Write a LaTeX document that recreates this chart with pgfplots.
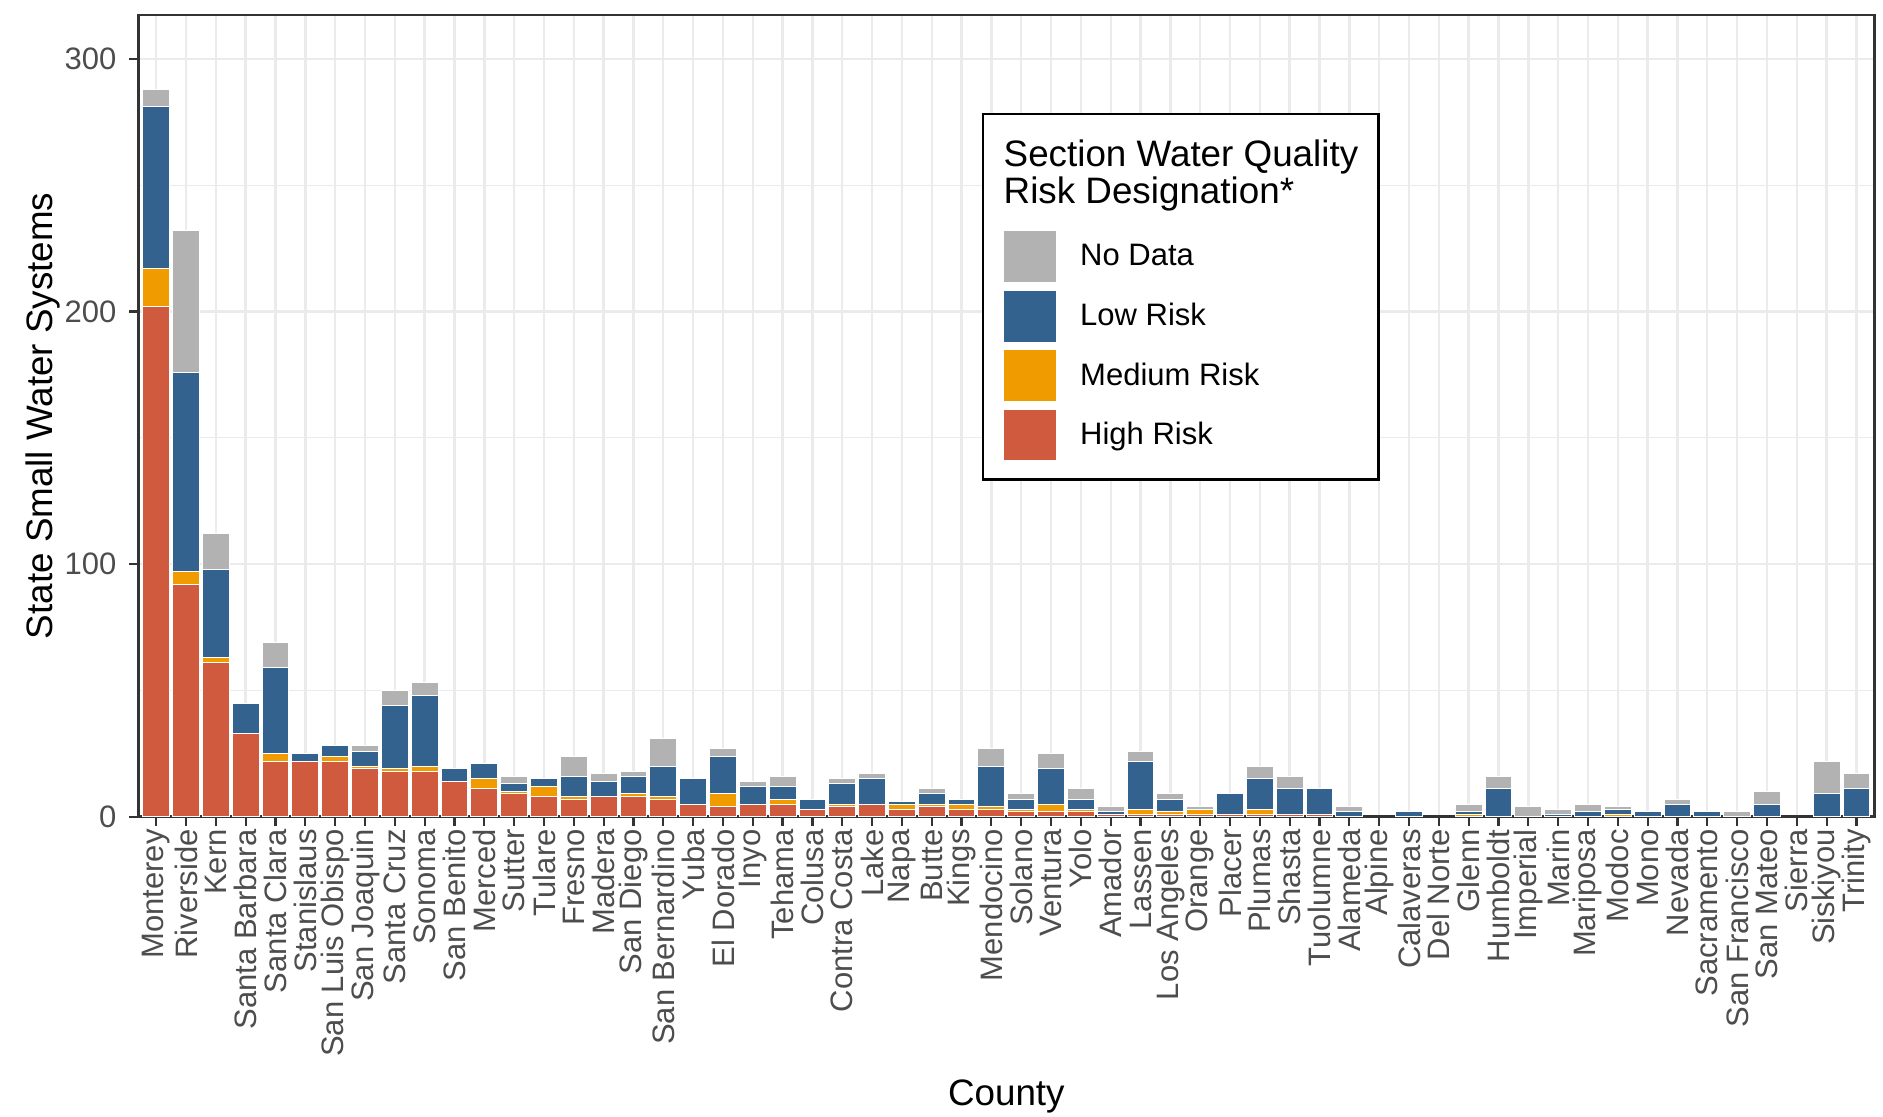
\documentclass[border=0pt]{standalone}
\usepackage{pgfplots}
\pgfplotsset{compat=1.18}
\usepackage{pgfplotstable}
\usepackage{fontspec}
\setmainfont{Liberation Sans}
\definecolor{cND}{HTML}{B2B2B2}
\definecolor{cLow}{HTML}{33628E}
\definecolor{cMed}{HTML}{F09B00}
\definecolor{cHigh}{HTML}{D05A3E}
\definecolor{gridc}{HTML}{EBEBEB}
\definecolor{g20}{HTML}{333333}
\definecolor{g30}{HTML}{4D4D4D}

\pgfplotstableread{
x high med low nodata
0 202 15 64 7
1 92 5 79 56
2 61 2 35 14
3 33 0 12 0
4 22 3 34 10
5 22 0 3 0
6 22 2 4 0
7 19 1 6 2
8 18 1 25 6
9 18 2 28 5
10 14 0 5 0
11 11 4 6 0
12 9 1 3 3
13 8 4 3 0
14 7 1 8 8
15 8 0 6 3
16 8 1 7 2
17 7 1 12 11
18 5 0 10 0
19 4 5 15 3
20 5 0 7 2
21 5 2 5 4
22 3 0 4 0
23 4 1 8 2
24 5 0 10 2
25 3 2 1 0
26 4 1 4 2
27 3 2 2 0
28 3 1 16 7
29 2 1 4 2
30 2 3 14 6
31 2 1 4 4
32 1 0 1 2
33 1 2 19 4
34 1 1 5 2
35 1 2 0 1
36 1 0 8 0
37 1 2 12 5
38 1 0 10 5
39 1 0 10 0
40 0 0 2 2
41 0 0 0 0
42 0 0 2 0
43 0 0 0 0
44 0 1 1 3
45 0 0 11 5
46 0 0 0 4
47 0 0 1 2
48 0 0 2 3
49 0 1 2 1
50 0 0 2 0
51 0 0 5 2
52 0 0 2 0
53 0 0 0 2
54 0 0 5 5
55 0 0 0 0
56 0 0 9 13
57 0 0 11 6
}\data

\pgfplotsset{
  keyimg/.style={legend image code/.code={\draw[##1, line width=0.8pt] (0pt,-13.1pt) rectangle (27.2pt,13.1pt);}},
}

\begin{document}
\begin{tikzpicture}
\begin{axis}[
  name=ax,
  scale only axis, width=868pt, height=400.85pt,
  ybar stacked, bar width=0.9,
  clip=false,
  xmin=-0.6, xmax=57.6, ymin=0, ymax=317.4,
  enlargelimits=false,
  xtick={0,...,57},
  xticklabels={Monterey,Riverside,Kern,Santa Barbara,Santa Clara,Stanislaus,San Luis Obispo,San Joaquin,Santa Cruz,Sonoma,San Benito,Merced,Sutter,Tulare,Fresno,Madera,San Diego,San Bernardino,Yuba,El Dorado,Inyo,Tehama,Colusa,Contra Costa,Lake,Napa,Butte,Kings,Mendocino,Solano,Ventura,Yolo,Amador,Lassen,Los Angeles,Orange,Placer,Plumas,Shasta,Tuolumne,Alameda,Alpine,Calaveras,Del Norte,Glenn,Humboldt,Imperial,Marin,Mariposa,Modoc,Mono,Nevada,Sacramento,San Francisco,San Mateo,Sierra,Siskiyou,Trinity},
  ytick={0,100,200,300},
  minor ytick={50,150,250},
  grid=both,
  major grid style={gridc, line width=1.2pt},
  minor grid style={gridc, line width=0.6pt},
  axis line style={g20, line width=1.4pt},
  tick style={g20, line width=1.1pt},
  major tick length=4.5pt,
  minor tick length=0pt,
  tick align=outside,
  tick pos=left,
  /pgf/number format/assume math mode=true,
  ticklabel style={font=\fontsize{15.5}{18}\selectfont, text=g30},
  xticklabel style={rotate=90, anchor=east, inner sep=0pt},
  yticklabel style={anchor=east, inner sep=0pt},
  xticklabel shift=1.65pt,
  yticklabel shift=6.3pt,
  xlabel={County},
  ylabel={State Small Water Systems},
  xlabel style={at={(axis description cs:0.5,0)}, anchor=base, yshift=-144.15pt, font=\fontsize{18.4}{22}\selectfont, inner sep=0pt},
  ylabel style={at={([xshift=-42.8pt]axis description cs:0,0.5)}, anchor=base, font=\fontsize{18.4}{22}\selectfont, inner sep=0pt},
  legend style={at={(0.4973,0.7327)}, anchor=north west, draw=none, fill=none,
    inner xsep=0pt, inner ysep=0pt, row sep=2.7pt, column sep=11.1pt,
    nodes={inner sep=0pt}, font=\fontsize{15.5}{18}\selectfont},
  legend cell align=left,
  reverse legend,
]
\fill[white] (axis description cs:0.4864,0.8765) rectangle (axis description cs:0.7143,0.4209);

\addplot[fill=cHigh, draw=white, line width=0.5pt, keyimg] table[x=x, y=high]{\data};
\addlegendentry{High Risk}
\addplot[fill=cMed, draw=white, line width=0.5pt, keyimg] table[x=x, y=med]{\data};
\addlegendentry{Medium Risk}
\addplot[fill=cLow, draw=white, line width=0.5pt, keyimg] table[x=x, y=low]{\data};
\addlegendentry{Low Risk}
\addplot[fill=cND, draw=white, line width=0.5pt, keyimg] table[x=x, y=nodata]{\data};
\addlegendentry{No Data}

\draw[g20, line width=1.4pt] (rel axis cs:0,0) rectangle (rel axis cs:1,1);
\end{axis}
\draw[black, line width=1.2pt] ([shift={(422.2pt,351.35pt)}]ax.south west) rectangle ([shift={(620.0pt,168.7pt)}]ax.south west);
\node[anchor=base west, inner sep=0pt, font=\fontsize{18.4}{22}\selectfont] at ([shift={(432.5pt,325.35pt)}]ax.south west) {Section Water Quality};
\node[anchor=base west, inner sep=0pt, font=\fontsize{18.4}{22}\selectfont] at ([shift={(432.5pt,306.7pt)}]ax.south west) {Risk Designation*};
\pgfresetboundingbox
\path[use as bounding box] ([shift={(-69.15pt,-149.65pt)}]ax.south west) rectangle ([shift={(4.35pt,7.5pt)}]ax.north east);
\end{tikzpicture}
\end{document}
